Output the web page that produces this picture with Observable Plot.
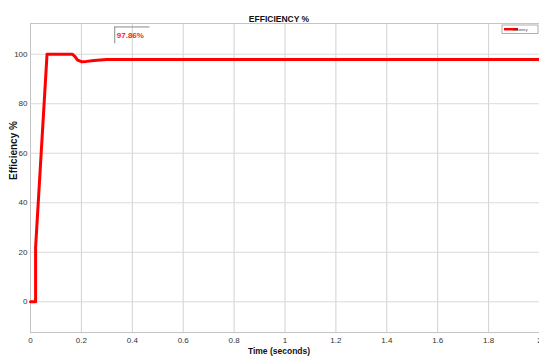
<!DOCTYPE html>
<html>
<head>
<meta charset="utf-8">
<script src="https://cdn.jsdelivr.net/npm/d3@7"></script>
<script src="https://cdn.jsdelivr.net/npm/@observablehq/plot@0.6"></script>
<style>
  html, body { margin: 0; padding: 0; background: #fff; }
  #chart { position: relative; width: 539px; height: 356px; overflow: hidden; }
  svg { font-family: "Liberation Sans", Arial, sans-serif; }
</style>
</head>
<body>
<div id="chart"></div>
<script>
// ---- data ----
const time = [0, 0.02, 0.02, 0.065, 0.165, 0.175, 0.185, 0.2, 0.22, 0.25, 0.3, 2];
const efficiency = [0, 0, 22, 100, 100, 99.0, 97.6, 97.0, 97.1, 97.5, 97.86, 97.86];
const xTicks = [0, 0.2, 0.4, 0.6, 0.8, 1, 1.2, 1.4, 1.6, 1.8, 2];
const yTicks = [0, 20, 40, 60, 80, 100];
const titleText = "EFFICIENCY %";
const xLabel = "Time (seconds)";
const yLabel = "Efficiency %";
const annotationText = "97.86%";
const legendLabel = "efficiency";

const data = time.map((t, i) => ({t, e: efficiency[i]}));

// annotation box anchored in data space (left and top edges like the reference)
const annot = {x1: 0.331, x2: 0.469, y1: 104.2, y2: 111.0, tx: 0.339, ty: 107.4};

const plot = Plot.plot({
  width: 539,
  height: 356,
  marginLeft: 30,
  marginRight: 0,
  marginTop: 23,
  marginBottom: 24,
  style: {fontFamily: "'Liberation Sans', Arial, sans-serif", background: "#fff"},
  x: {domain: [0, 2], ticks: xTicks},
  y: {domain: [-12.4, 112.4], ticks: yTicks},
  marks: [
    Plot.gridX(xTicks, {stroke: "#d2d2d2", strokeOpacity: 1}),
    Plot.gridY(yTicks, {stroke: "#dadada", strokeOpacity: 1}),
    Plot.frame({stroke: "#c4c4c4"}),
    Plot.axisX(xTicks, {tickSize: 0, tickPadding: 5, fontSize: 8, fill: "#333", label: null, tickFormat: d => String(d)}),
    Plot.axisY(yTicks, {tickSize: 0, tickPadding: 3, fontSize: 8, fill: "#333", label: null}),
    Plot.line(data, {x: "t", y: "e", stroke: "#ff0000", strokeWidth: 3, strokeLinejoin: "round"}),
    // annotation box (left and top edges)
    Plot.ruleX([annot.x1], {y1: annot.y1, y2: annot.y2, stroke: "#8a8a8a", strokeWidth: 1}),
    Plot.ruleY([annot.y2], {x1: annot.x1, x2: annot.x2, stroke: "#8a8a8a", strokeWidth: 1}),
    Plot.text([annotationText], {x: annot.tx, y: annot.ty, text: d => d, textAnchor: "start", fill: "#ff1a1a", fontWeight: "bold", fontSize: 8}),
    // title and axis labels
    Plot.text([titleText], {frameAnchor: "top", dx: -6, dy: -8, text: d => d, fontWeight: "bold", fontSize: 8.5, fill: "#111"}),
    Plot.text([xLabel], {frameAnchor: "bottom", dx: -6, dy: 21.5, text: d => d, fontWeight: "bold", fontSize: 8.5, fill: "#111"}),
    Plot.text([yLabel], {frameAnchor: "left", dx: -17, dy: 2, rotate: -90, text: d => d, fontWeight: "bold", fontSize: 10, fill: "#111"})
  ]
});

// legend (top-right inside the axes)
const svg = d3.select(plot);
const lg = svg.append("g").attr("transform", "translate(502,25)");
lg.append("rect").attr("width", 36).attr("height", 8.5).attr("fill", "#fff").attr("stroke", "#9a9a9a").attr("stroke-width", 0.8);
lg.append("line").attr("x1", 2).attr("x2", 16).attr("y1", 4.2).attr("y2", 4.2).attr("stroke", "#ff0000").attr("stroke-width", 2.5);
lg.append("text").attr("x", 18).attr("y", 4.4).attr("dy", "0.32em").attr("font-size", 3.6).attr("fill", "#333").text(legendLabel);

document.getElementById("chart").appendChild(plot);
</script>
</body>
</html>
